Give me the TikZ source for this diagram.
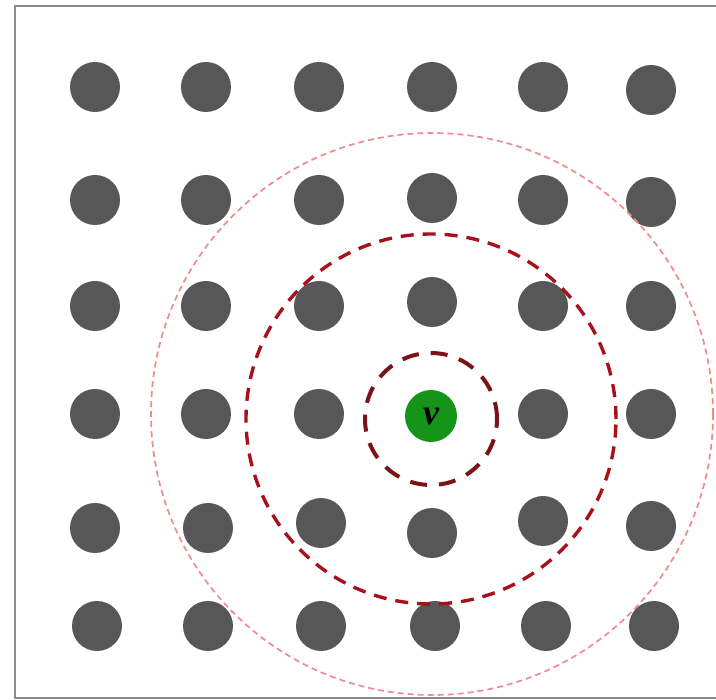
\documentclass[tikz,border=0pt]{standalone}
\usepackage{fontspec}
\setmainfont{Liberation Serif}
\definecolor{dotgray}{HTML}{575757}
\definecolor{vgreen}{HTML}{14951A}
\definecolor{ringdark}{HTML}{7A1218}
\definecolor{ringmid}{HTML}{A8101C}
\definecolor{ringlight}{HTML}{F08A90}
\definecolor{framegray}{HTML}{8C8C8C}
\begin{document}
\begin{tikzpicture}[x=1pt,y=-1pt,
  gdot/.style={circle,fill=dotgray,minimum size=50pt,inner sep=0pt},
  vdot/.style={circle,fill=vgreen,minimum size=52pt,inner sep=0pt,font=\fontsize{36}{36}\selectfont\bfseries\itshape},
  ringA/.style={draw=ringdark,line width=4pt,dash pattern=on 17pt off 12pt},
  ringB/.style={draw=ringmid,line width=3.4pt,dash pattern=on 13pt off 9pt},
  ringC/.style={draw=ringlight,line width=1.7pt,dash pattern=on 6pt off 4pt}]
\useasboundingbox (0,0) rectangle (716,700);
\node[draw=framegray,line width=2pt,minimum width=702pt,minimum height=692pt,inner sep=0pt,anchor=north west] (frame) at (14,5) {};
% row 1
\node[gdot] (d11) at (95,87) {};
\node[gdot] (d12) at (206,87) {};
\node[gdot] (d13) at (319,87) {};
\node[gdot] (d14) at (432,87) {};
\node[gdot] (d15) at (543,87) {};
\node[gdot] (d16) at (651,90) {};
% row 2
\node[gdot] (d21) at (95,200) {};
\node[gdot] (d22) at (206,200) {};
\node[gdot] (d23) at (319,200) {};
\node[gdot] (d24) at (432,198) {};
\node[gdot] (d25) at (543,200) {};
\node[gdot] (d26) at (651,202) {};
% row 3
\node[gdot] (d31) at (95,306) {};
\node[gdot] (d32) at (206,306) {};
\node[gdot] (d33) at (319,306) {};
\node[gdot] (d34) at (432,302) {};
\node[gdot] (d35) at (543,306) {};
\node[gdot] (d36) at (651,306) {};
% row 4
\node[gdot] (d41) at (95,414) {};
\node[gdot] (d42) at (206,414) {};
\node[gdot] (d43) at (319,414) {};
\node[vdot] (v) at (431,416) {v};
\node[gdot] (d45) at (543,414) {};
\node[gdot] (d46) at (651,414) {};
% row 5
\node[gdot] (d51) at (95,528) {};
\node[gdot] (d52) at (208,528) {};
\node[gdot] (d53) at (321,523) {};
\node[gdot] (d54) at (432,533) {};
\node[gdot] (d55) at (543,521) {};
\node[gdot] (d56) at (651,526) {};
% row 6
\node[gdot] (d61) at (97,626) {};
\node[gdot] (d62) at (208,626) {};
\node[gdot] (d63) at (321,626) {};
\node[gdot] (d64) at (435,626) {};
\node[gdot] (d65) at (546,626) {};
\node[gdot] (d66) at (654,626) {};
% rings
\coordinate (c) at (431,419);
\draw[ringA] (c) circle[radius=66pt];
\draw[ringB] (c) circle[radius=185pt];
\draw[ringC] (432,414) circle[radius=281pt];
\end{tikzpicture}
\end{document}
